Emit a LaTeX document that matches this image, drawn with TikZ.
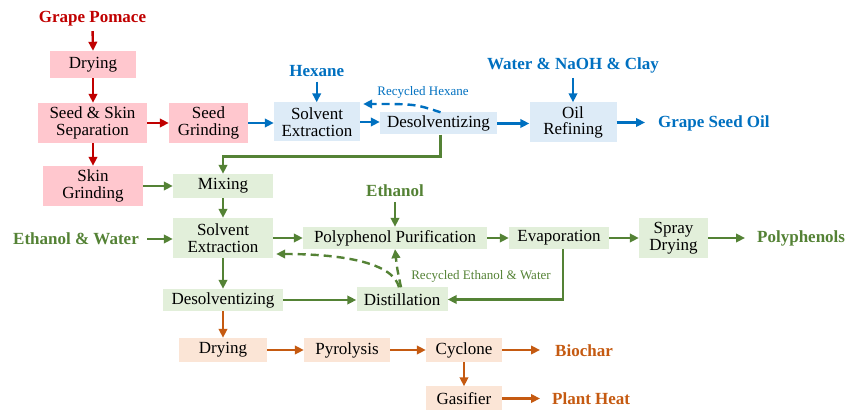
\documentclass[tikz,border=0pt]{standalone}
\usepackage{fontspec}
\setmainfont{Liberation Serif}
\usetikzlibrary{arrows.meta,calc}
\definecolor{cred}{HTML}{C00000}
\definecolor{fred}{HTML}{FFC7CE}
\definecolor{cblue}{HTML}{0070C0}
\definecolor{fblue}{HTML}{DDEBF7}
\definecolor{cgreen}{HTML}{548235}
\definecolor{fgreen}{HTML}{E2EFDA}
\definecolor{corange}{HTML}{C55A11}
\definecolor{forange}{HTML}{FBE5D6}
\begin{document}
\begin{tikzpicture}[x=1pt,y=-1pt,
  box/.style={inner sep=0pt, align=center, font=\fontsize{17}{16.5}\selectfont, text=black},
  rbox/.style={box, fill=fred},
  bbox/.style={box, fill=fblue},
  gbox/.style={box, fill=fgreen},
  obox/.style={box, fill=forange},
  lab/.style={inner sep=0pt, font=\fontsize{17}{17}\selectfont\bfseries},
  small/.style={inner sep=0pt, font=\fontsize{13}{13}\selectfont},
  arr/.style={line width=2.4pt, -{Triangle[length=9pt,width=8.5pt]}},
  dasharr/.style={arr, dash pattern=on 8pt off 5pt}
]
\useasboundingbox (0,0) rectangle (846,411);

% red boxes
\node[rbox, minimum width=86pt, minimum height=27pt] (dry1) at (93,64.5) {Drying};
\node[rbox, minimum width=109pt, minimum height=40pt] (sep) at (92.5,123) {Seed \& Skin\\Separation};
\node[rbox, minimum width=79pt, minimum height=40pt] (sgr) at (208.5,123) {Seed\\Grinding};
\node[rbox, minimum width=100pt, minimum height=40pt] (skg) at (93,186) {Skin\\Grinding};
% blue boxes
\node[bbox, minimum width=86pt, minimum height=39pt] (se1) at (317,122) {Solvent\\Extraction};
\node[bbox, minimum width=117pt, minimum height=22pt] (des1) at (438.5,123.5) {Desolventizing};
\node[bbox, minimum width=87pt, minimum height=40pt] (oil) at (573,122.5) {Oil\\Refining};
% green boxes
\node[gbox, minimum width=100pt, minimum height=24pt] (mix) at (223,186) {Mixing};
\node[gbox, minimum width=100pt, minimum height=40pt] (se2) at (223,238) {Solvent\\Extraction};
\node[gbox, minimum width=184pt, minimum height=22pt] (pp) at (395,238) {Polyphenol Purification};
\node[gbox, minimum width=100pt, minimum height=22pt] (evap) at (559,238) {Evaporation};
\node[gbox, minimum width=69pt, minimum height=40pt] (spray) at (673.5,238) {Spray\\Drying};
\node[gbox, minimum width=120pt, minimum height=22pt] (des2) at (223,300) {Desolventizing};
\node[gbox, minimum width=91pt, minimum height=24pt] (dist) at (402,299.5) {Distillation};
% orange boxes
\node[obox, minimum width=88pt, minimum height=24pt] (dry2) at (223,350) {Drying};
\node[obox, minimum width=86pt, minimum height=24pt] (pyr) at (347,350) {Pyrolysis};
\node[obox, minimum width=76pt, minimum height=24pt] (cyc) at (464,350) {Cyclone};
\node[obox, minimum width=76pt, minimum height=24pt] (gas) at (464,398.5) {Gasifier};

% labels
\node[lab, text=cred] (gp) at (92.5,18.5) {Grape Pomace};
\node[lab, text=cblue] (hex) at (316.7,70.7) {Hexane};
\node[lab, text=cblue] (wnc) at (573,65) {Water \& NaOH \& Clay};
\node[lab, text=cblue, anchor=west] (gso) at (658,123) {Grape Seed Oil};
\node[lab, text=cgreen] (eth) at (395,190.7) {Ethanol};
\node[lab, text=cgreen] (ew) at (76,239) {Ethanol \& Water};
\node[lab, text=cgreen, anchor=west] (poly) at (757,238) {Polyphenols};
\node[lab, text=corange, anchor=west] (bio) at (555,350.5) {Biochar};
\node[lab, text=corange, anchor=west] (ph) at (552,399) {Plant Heat};
\node[small, text=cblue] (rh) at (423,92.7) {Recycled Hexane};
\node[small, text=cgreen] (rew) at (481,276) {Recycled Ethanol \& Water};

% red arrows
\draw[arr, cred, shorten <=5pt] (gp.south) -- (dry1.north);
\draw[arr, cred] (dry1.south) -- (dry1.south |- sep.north);
\draw[arr, cred] (sep.east) -- (sgr.west);
\draw[arr, cred] (sep.south -| skg.north) -- (skg.north);
% blue arrows
\draw[arr, cblue] (sgr.east) -- (sgr.east -| se1.west);
\draw[arr, cblue, shorten <=5pt] (hex.south) -- (hex.south |- se1.north);
\draw[arr, cblue] (se1.east) -- (se1.east -| des1.west);
\draw[arr, cblue] (des1.east) -- (des1.east -| oil.west);
\draw[arr, cblue, shorten <=5pt] (wnc.south) -- (oil.north);
\draw[arr, cblue, shorten >=13pt] (oil.east) -- (oil.east -| gso.west);
\draw[dasharr, cblue] ($(des1.north)+(2,0)$) .. controls (415,104) .. ($(se1.east)+(3,-18)$);
% green arrows
\draw[arr, cgreen] ($(des1.south)+(2,0)$) -- ++(0,22) -| (mix.north);
\draw[arr, cgreen] (skg.east |- mix.west) -- (mix.west);
\draw[arr, cgreen] (mix.south) -- (se2.north);
\draw[arr, cgreen, shorten <=8pt] (ew.east) -- (ew.east -| se2.west);
\draw[arr, cgreen] (se2.east) -- (pp.west);
\draw[arr, cgreen, shorten <=5pt] (eth.south) -- (pp.north);
\draw[arr, cgreen] (pp.east) -- (evap.west);
\draw[arr, cgreen] (evap.east) -- (spray.west);
\draw[arr, cgreen, shorten >=12pt] (spray.east) -- (spray.east -| poly.west);
\draw[arr, cgreen] (se2.south) -- (des2.north);
\draw[arr, cgreen] (des2.east) -- (des2.east -| dist.west);
\draw[arr, cgreen] ($(evap.south)+(4,0)$) |- (dist.east);
\draw[dasharr, cgreen] ($(dist.north)+(-1,0)$) .. controls (397,268) .. (pp.south);
\draw[dasharr, cgreen] ($(dist.north)+(-3,0)$) .. controls (393,262) and (340,254) .. ($(se2.east)+(3,16)$);
% orange arrows
\draw[arr, corange] (des2.south) -- (dry2.north);
\draw[arr, corange] (dry2.east) -- (pyr.west);
\draw[arr, corange] (pyr.east) -- (cyc.west);
\draw[arr, corange, shorten >=15pt] (cyc.east) -- (cyc.east -| bio.west);
\draw[arr, corange] (cyc.south) -- (gas.north);
\draw[arr, corange, shorten >=12pt] (gas.east) -- (gas.east -| ph.west);
\end{tikzpicture}
\end{document}
